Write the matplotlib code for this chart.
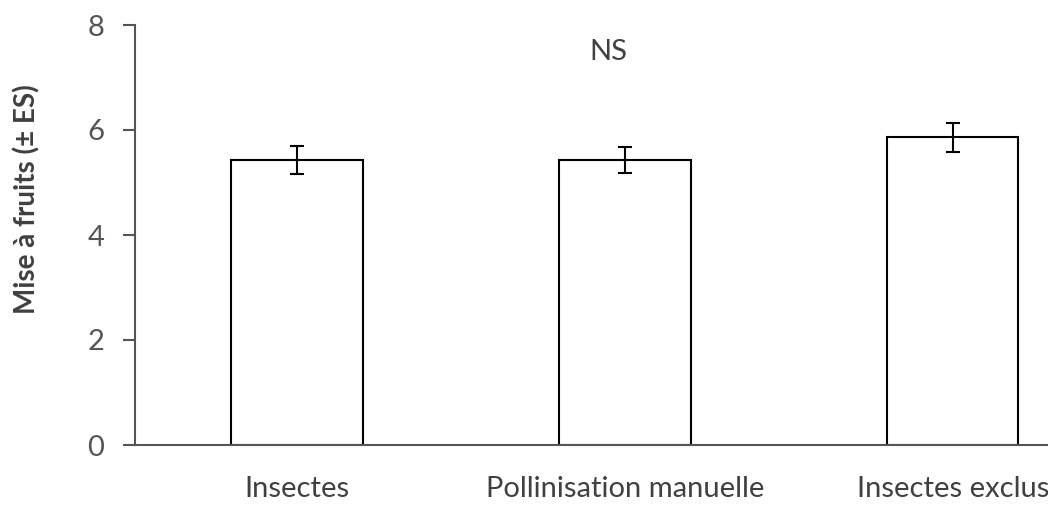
import matplotlib.pyplot as plt

categories = ["Insectes", "Pollinisation manuelle", "Insectes exclus"]
means = [5.43, 5.43, 5.86]
errors = [0.26, 0.24, 0.28]

plt.rcParams['font.family'] = ['Lato', 'DejaVu Sans']

fig = plt.figure(figsize=(10.48, 5.08), dpi=100)
ax = fig.add_axes([135 / 1048, 1 - 445 / 508, 1 - 135 / 1048, (445 - 25) / 508])

x = range(len(categories))
ax.bar(x, means, width=0.4, color="white", edgecolor="black", linewidth=1.5, zorder=2)
ax.errorbar(x, means, yerr=errors, fmt="none", ecolor="black",
            elinewidth=1.5, capsize=5, capthick=1.5, zorder=3)

ax.set_xlim(-0.494, 2.29)
ax.set_ylim(0, 8)
ax.set_yticks([0, 2, 4, 6, 8])
ax.set_xticks(list(x))
ax.set_xticklabels(categories)

for side in ["top", "right"]:
    ax.spines[side].set_visible(False)
for side in ["left", "bottom"]:
    ax.spines[side].set_color("#555555")
    ax.spines[side].set_linewidth(1.5)

ax.tick_params(axis="y", length=9, width=1.5, color="#555555", pad=13,
               labelsize=21, labelcolor="#555555")
ax.tick_params(axis="x", length=0, pad=22, labelsize=21, labelcolor="#404040")

ax.text(0.95, 7.49, "NS", ha="center", va="center", fontsize=21, color="#404040")

fig.text(27 / 1048, 1 - 199 / 508, "Mise à fruits (± ES)", rotation=90,
         ha="center", va="center", fontsize=20, fontweight="bold", color="#404040")

fig.savefig("out.png", dpi=100)
